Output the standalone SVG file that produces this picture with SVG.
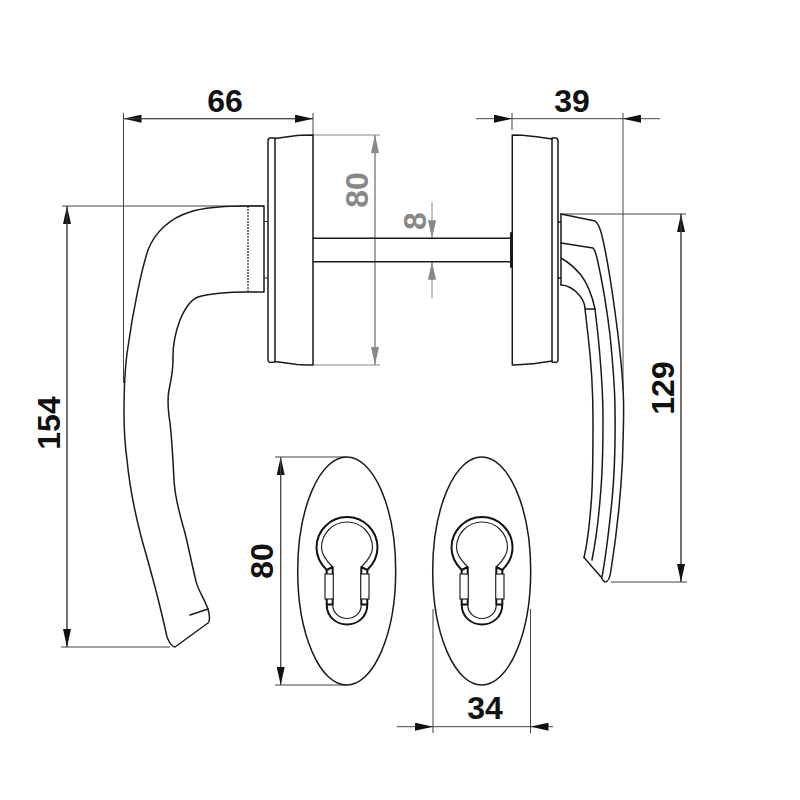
<svg xmlns="http://www.w3.org/2000/svg" xmlns:xlink="http://www.w3.org/1999/xlink" width="800" height="800" viewBox="0 0 800 800">
<defs>
<style>
.o{fill:none;stroke:#1a1a1a;stroke-width:1.5;stroke-linejoin:round;stroke-linecap:round}
.k{fill:none;stroke:#111;stroke-width:2;stroke-linejoin:round}
.t{fill:none;stroke:#222;stroke-width:1.2}
.d{fill:none;stroke:#444;stroke-width:1}
.g{fill:none;stroke:#888;stroke-width:1}
.a{marker-end:url(#ah)}
.b{marker-end:url(#ag)}
text{font-family:"Liberation Sans",Arial,sans-serif;font-weight:700;font-size:32px;text-anchor:middle;fill:#111}
.gt{fill:#888}
</style>
<marker id="ah" markerUnits="userSpaceOnUse" markerWidth="18" markerHeight="8" refX="18" refY="4" orient="auto"><path d="M0,0L18,4L0,8z" fill="#111"/></marker>
<marker id="ag" markerUnits="userSpaceOnUse" markerWidth="18" markerHeight="8" refX="18" refY="4" orient="auto"><path d="M0,0L18,4L0,8z" fill="#888"/></marker>
<g id="keyhole">
<path class="k" d="M-20.3,22.5C-27,16-30.5,8-30.5,0A30.5,30.5 0 0 1 30.5,0C30.5,8 27,16 20.3,22.5"/>
<path class="t" d="M-14.3,19.5C-21,13-25.5,7-25.5,0A25.5,25.5 0 0 1 25.5,0C25.5,7 21,13 14.3,19.5"/>
<path class="k" d="M-20.3,22.5L-14.3,19.5V26.5M-20.3,22.5V26.5M20.3,22.5L14.3,19.5V26.5M20.3,22.5V26.5"/>
<rect class="t" x="-22" y="26.5" width="8.3" height="25"/>
<rect class="t" x="13.7" y="26.5" width="8.3" height="25"/>
<path class="k" d="M-20.3,51.5V57H-14.3V51.5M14.3,51.5V57H20.3V51.5"/>
<path class="k" d="M-20.3,57C-20.3,70-10,77 0,77C10,77 20.3,70 20.3,57"/>
<path class="t" d="M-14.3,57C-14.3,66-7,71 0,71C7,71 14.3,66 14.3,57"/>
</g>
</defs>
<rect width="800" height="800" fill="#fff"/>

<g id="connectors">
<path class="d" d="M123.5,113V383M313,113V135M62,206H264M61,647H170"/>
<path class="d a" d="M313,118.7H123.5"/>
<path class="d a" d="M123.5,118.7H313"/>
<path class="d a" d="M476,118.7H512"/>
<path class="d a" d="M660,118.7H623"/>
<path class="d" d="M512,118.7H623M512,113V130M623,113V390M561,214H686M611,582H687"/>
<path class="d a" d="M681,582V214"/>
<path class="d a" d="M681,214V582"/>
<path class="d a" d="M67,647V206"/>
<path class="d a" d="M67,206V647"/>
<path class="g" d="M313,135H380M313,365H380"/>
<path class="g b" d="M375,365V135"/>
<path class="g b" d="M375,135V365"/>
<path class="g b" d="M432,202V238.3"/>
<path class="g b" d="M432,298V261.7"/>
<path class="d" d="M275,457H346M275,685H346M433,609V733M530.5,609V733"/>
<path class="d a" d="M280.7,685V457"/>
<path class="d a" d="M280.7,457V685"/>
<path class="d a" d="M397,726.7H433"/>
<path class="d a" d="M553,726.7H530.5"/>
<path class="d" d="M433,726.7H530.5"/>
</g>

<g id="left-rosette">
<path class="o" d="M313,135V365M313,135C305,135 300,135.5 297,135.5L275,138.5M313,365C305,365 300,364.5 297,364.5L275,361.5"/>
<path class="o" d="M275,138V362L270,362.5Q268,362 268,360V141Q268,138.5 270,138Z"/>
</g>

<g id="spindle">
<path class="o" d="M313,238.3H512M313,261.7H512"/>
<path class="o" style="stroke-width:2" d="M511,233V267"/>
</g>

<g id="right-rosette">
<path class="o" d="M512.3,135V365M512.3,135C525,135 530,136 535,136.5L552,139M512.3,365C525,365 530,364 535,363.5L552,361"/>
<path class="o" d="M552,138V362L556,362.5Q558,362 558,360V141Q558,138.5 556,138Z"/>
</g>

<g id="left-handle">
<path class="o" d="M248,206C225,206 205,207 190,212C170,218 155,232 148,250C142,268 133,310 128,347C125,365 124,385 124,413C124,430 125,445 127,460C130,490 134,510 142,540C150,568 158,595 167,637Q171,647 175,647L208,623Q211,620 208,609C203,595 197,590 195,577C191,560 188,545 185,533C180,515 175,500 174,480C173,460 172,440 170,423C168,410 167,400 169,390C171,380 173,372 173,360C172.5,345 175,333 180,320C185,308 190,300 198,297C212,293 230,292 248,292H264V206Z"/>
<path class="t" stroke-dasharray="2 1" d="M248,206V292"/>
<path class="t" d="M264,221.5H268M264,278H268"/>
<path class="o" d="M190,615L208,609"/>
</g>

<g id="right-handle">
<path class="o" d="M561,214V285M558,222H561M558,278H561"/>
<path class="o" d="M561,214L595,221C598,223 599.5,227 601,232C607,255 613,295 618,335C621,360 623,380 623.5,400C624,420 623,440 622.5,460C621,490 619,520 611,570C610,578 608,582 605,582Q603,581 601,577L584,557.5"/>
<path class="o" d="M561,243L593,248C595,250 596,254 597,258C602,280 607,310 610,335C613,365 615,385 615,410C615.5,445 614,480 612,500C609,530 606,555 602,577"/>
<path class="o" d="M561,258C568,262 575,268 581,275C587,283 592,295 595,309L598,335C601,365 603,390 603,420C603,455 601,490 600,500C598,525 596,540 592,560"/>
<path class="o" d="M561,285C566,285 574,288 580,296C583,300 585,305 585,309L588,335C591,360 593,385 593,420C593,460 592,495 591,505C589,530 587,545 584,557.5"/>
<path class="o" d="M585,309H595"/>
</g>

<g id="left-escutcheon">
<ellipse class="o" cx="346.7" cy="571" rx="49" ry="114"/>
<use xlink:href="#keyhole" href="#keyhole" x="347" y="547.5"/>
</g>

<g id="right-escutcheon">
<ellipse class="o" cx="481.7" cy="571" rx="49" ry="114"/>
<use xlink:href="#keyhole" href="#keyhole" x="482" y="547.5"/>
</g>

<g id="labels">
<text x="225" y="112">66</text>
<text x="572" y="112">39</text>
<text x="485" y="719">34</text>
<text transform="translate(60,423) rotate(-90)">154</text>
<text transform="translate(674,388) rotate(-90)">129</text>
<text transform="translate(273,561) rotate(-90)">80</text>
<text class="gt" transform="translate(368,190) rotate(-90)">80</text>
<text class="gt" transform="translate(426,221) rotate(-90)">8</text>
</g>
</svg>
